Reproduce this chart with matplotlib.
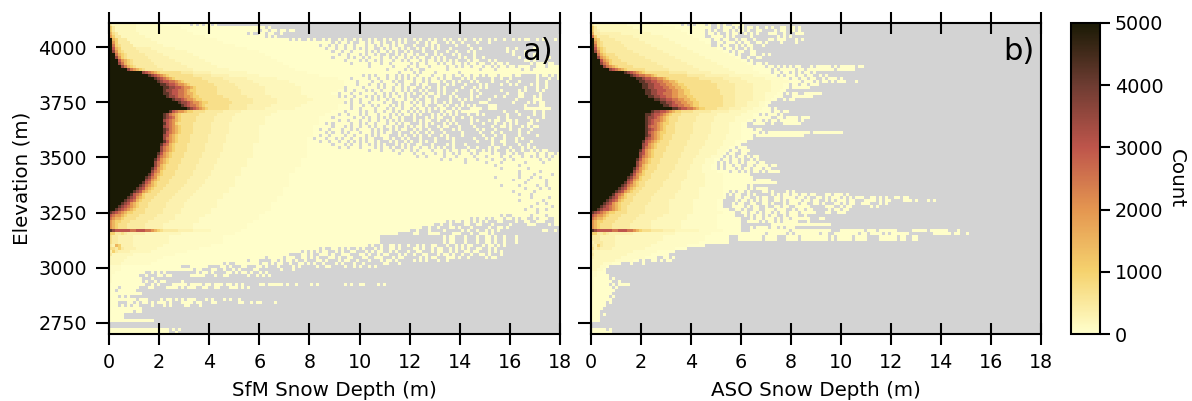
import matplotlib
matplotlib.use('Agg')
import matplotlib.pyplot as plt
import numpy as np
from matplotlib.colors import LinearSegmentedColormap

# count per level, '.' means empty bin
levels = {'0': 30, 'a': 90, '1': 180, 'b': 320, '2': 480, 'c': 720, '3': 1000, '4': 1500,
          '5': 2000, '6': 2500, '7': 3000, '8': 3500, '9': 4200, 'X': 5000}

depth_max = 18
elev_top = 4109
elev_bottom = 2700
n_cols = 150
n_rows = 104

# rows run from top elevation down, columns from 0 m depth up
# "0>20" fills with a level up to column 20, anything else is one level per character
sfm_rows = [
    "2 1>9 a>18 0>27 .0.0.00.0",
    "3 2 1>9 a>24 0>52 .0",
    "3 2 1>9 a>26 0>50 .00.00.0 0.00",
    "4 c 2 1>10 a>28 0>46 .0..00.00..0",
    "5 3 2>4 1>12 a>32 0>52 .0.0",
    "X 4 3 2>6 1>14 a>36 0>60 .0.0.>74 .0..0.0.00..0.0...0.0..0.00.0.0...0..0.0.....0",
    "X 5 3 2>7 1>16 a>38 0>74 .0.00.0..00.0.00.0..0.0.0...0..0.00...0.0..0....0...0",
    "X 6 3 c 2>8 1>18 a>42 0>70 .00.0.00.00.000.00.0.00.0.00...0...0.0.0.....0...0",
    "X 7 4 3 2>9 b>14 1>22 a>46 0>72 .00.00.00.0.0.00..0.0.00.0.0..0.0..0.0...0......0..0 .>132 0..0.....0",
    "X 8 5 3 c 2>10 b>16 1>26 a>50 0>74 .00.00.0000.0.0.00.0.0..0.0...0...0...0..0...0.0 .>130 ..0.0...0...0",
    "X X 6 4 3 c 2>12 b>18 1>28 a>52 0>76 .00.000.0.00.0..0..0.0.00.0..0..0.0...0.0....0 .>134 0...0..0",
    "X X 8 5 3 c 2>13 b>20 1>30 a>54 0>74 .0000.0.00.0.000.00.0.00.0.0.00..0.0.0....0.0..0..0 .>136 0..0.00...0",
    "X X X 7 5 4 3 c 2>14 b>22 1>32 a>56 0>78 .0000.0.00.0.000.00.0.000.0.00.0.0.0.0...0.00...0.0 .>138 00.0...0",
    "X X X 8 6 4 3 c 2>15 b>24 1>34 a>58 0>80 .00000.000.00.000000.0.00.000.0.00.00.0.00.00..0.00.0 .>140 0.000.00",
    "X>4 8 6 4 3 c 2>16 b>26 1>36 a>60 0>86 .0000000.0000.00.000.00000.00.0.00.000.00.0.00.00.0000 .>142 000.0000",
    "X>6 8 6 5 4 3 c 2>18 b>28 1>40 a>62 0>92 .00000.0.00..0000000.0000000000.0000.00000000.00.000 0>150",
    "X>11 8 7 6 5 4 3 c>24 2>28 b>34 1>46 a>66 0>96 .0000.0.0000.0000000.00000000000000000000000000000 0>150",
    "X>13 9 8 7 6 5 4 3 c>28 2>34 b>40 1>50 a>70 0>84 .0.0.000.00.0.0.00.0000.000.00.00.00.00.0.000.0000.00 .>142 0.00.0.0",
    "X>15 9 8 7 6 5 4 3 c>31 2>38 b>46 1>56 a>76 0>80 .00000.00.00.00.0.0.0.00.0.00.0.00...0.0.0.....0..0..0 .>140 ..0...0..0",
    "X>16 9 8 7 7 6 6 5 4 3 c>33 2>40 b>48 1>60 a>78 0>82 .0000.00.000.0..000.00.0.000.0..0.0...0.0....0 .>132 0...0.....0..0",
    "X>17 9 9 8 7 7 6 5 5 4 3 c>35 2>42 b>50 1>62 a>78 0>82 .000.00.0.000.0.00..0.00...0..0.0...0....0.0 .>130 0..0.0....0.0..0",
    "X>18 9 9 8 8 7 7 6 5 5 4 3 c>36 2>43 b>52 1>64 a>78 0>78 .00000.0000.0.00.00.0.00..0.0..0.0.....0...0.0.0 .>134 ....0...0..0",
    "X>18 9 8 8 7 7 6 6 5 4 3 3 c>36 2>44 b>52 1>64 a>76 0>78 .00.000.0.00.000.00.0.0..0.0...0.0...0....0.0 .>130 0.....0.0...0.0",
    "X>18 9 9 8 7 7 6 6 5 4 4 3 c>36 2>44 b>52 1>64 a>74 0>76 .000.00.0000.00.0.0.00.0.0..0.00.0.0..0.....0..0 .>132 0...00.....0",
    "X>19 9 8 8 7 6 6 5 5 4 3 3 c>38 2>46 b>54 1>66 a>76 0>76 .0.00.000.0.0.0.0.00.0.0...0.0..00...0.0....0.0 .>128 0..0....00...0.0",
    "X>21 9 8 8 7 6 5 5 4 3 3 c>40 2>48 b>56 1>68 a>78 0>80 .00.000.0.00.0.000.00.0..00.0....0..0.0.0.....0 .>132 ...0.....000",
    "X>23 9 8 8 7 6 5 5 4 3 3 c>41 2>48 b>56 1>66 a>78 0>78 .0.00.00.0000.00..0.00.0.0.00.0..0.0...0.....000 .>134 0....0.0.00",
    "X>24 9 8 7 6 6 5 4 3 c>40 2>46 b>54 1>64 a>76 0>80 .000.00.0.000.0.0.000.00.0...00.0..0.0.0.0....000 .>136 ..0....00",
    "X>26 9 8 7 6 5 4 3 c>40 2>46 b>52 1>62 a>76 0>80 .00.0000.000.0.00.00.0.00.0.0.00..0.0...0000..000 .>138 000000000",
    "X>20 9 7 6 5 5 4 3 3 c>32 2>38 b>44 1>56 a>74 0>78 .0000.0.00.00.00.0.00.0.0.0.0...0.00.0.000000 .>130 .0...0.....0..0",
    "X>18 9 8 6 5 4 3 c>30 2>36 b>42 1>54 a>72 0>76 .00.000.0.000.000.0.0.00.0.0...0.0.0.0.0...0..0.0 .>132 0...0....0..0",
    "X>18 9 8 7 6 4 3 c>29 2>35 b>41 1>52 a>70 0>74 .000000.00.0.00.0.0.00.0...0...0.0.00...0..0..0 .>128 .0..0......0....0",
    "X>18 8 7 6 5 4 3 c>29 2>35 b>41 1>52 a>70 0>76 .00.000.00.00.00.0.0.0...0.0.00..0..0.0.....0.0 .>126 0.00..00.0....0.0",
    "X>18 9 7 6 5 3 c>28 2>34 b>40 1>52 a>70 0>72 .0.00000.00.0.00.000.00.0.00...0.0.0...0.0.0....0 .>124 0...0..0.0.0...00..",
    "X>18 8 7 6 5 4 3 c>28 2>34 b>40 1>50 a>68 0>74 .000.0.00.00.0.00.00.0..0.0.00.0...0.00...0....0 .>126 .0..00.0...0.0.00",
    "X>18 9 8 6 5 4 3 c>28 2>34 b>40 1>50 a>68 0>70 .00.000.00.0.0000.0.0..0.0.00..0.0..0...0...0.0 .>122 0.0...0....0..0...0",
    "X>18 9 7 6 5 4 3 c>28 2>34 b>40 1>50 a>68 0>72 .0.00.0.000.000.0.0.00..0...0.0..0.0...0.....0 .>122 .0...0..0.....0..0",
    "X>18 8 7 5 4 3 c>27 2>33 b>39 1>50 a>68 0>70 .00.0000.00.000.0.0.000...0.0..0.0..0...0.0....0 .>124 0...0..0....0.....0",
    "X>18 8 6 5 4 3 c>27 2>33 b>39 1>50 a>66 0>68 .000.00.0.00.00.0.00...00.0..0.0...0....0...0.0 .>120 .0...0.0...0...0.0",
    "X>18 9 7 5 4 3 c>27 2>33 b>39 1>50 a>66 0>70 .00.00.00.0.0.0.00.0...0.0..0.0..0.0..0.....0 .>122 0....0..00...0....0",
    "X>17 9 7 6 4 3 c>26 2>32 b>38 1>48 a>66 0>74 .000.0.00.00.0.0.0...0.0.0..00...0....0.0...0 .>124 ...0...0....0..0",
    "X>17 8 6 5 4 3 c>26 2>32 b>38 1>48 a>66 0>76 .00.000.0000.0.00.0..0.0.00.00.0.0.0..0....0..0 .>126 0.00...0...0.0.0",
    "X>17 8 6 5 4 3 c>26 2>32 b>38 1>48 a>66 0>86 .000.000.00.00.0.0000.000.0.00.00.00..0.0.0...0 .>134 0..0..0.0.00",
    "X>16 9 7 5 4 3 c>25 2>31 b>37 1>48 a>66 0>96 .0000.00.000.00.00.0.000.0.0000.00..00.0..000 .>140 0.00.00.0.",
    "X>16 8 6 5 4 3 c>25 2>31 b>37 1>48 a>66 0>102 .00.00000.000.00000.000.0000.00.000.00.0.00 .>146 0.00",
    "X>15 9 7 5 4 3 c>24 2>30 b>36 1>46 a>64 0>110 .00.0000.000.0000.000.00.00000000.00.00 0>150",
    "X>15 8 6 5 4 3 c>24 2>30 b>36 1>46 a>64 0>118 .000000.0000.0000000.00000.0 0>150",
    "X>15 8 6 4 3 c>23 2>29 b>35 1>46 a>64 0>128 .0000000.000000000 0>150",
    "X>14 9 7 5 4 3 c>23 2>29 b>35 1>44 a>62 0>130 .00000000.00000000 0>150",
    "X>14 8 6 5 3 c>22 2>28 b>34 1>44 a>62 0>136 .000000.000000 0>150",
    "X>13 9 7 5 4 3 c>22 2>28 b>34 1>44 a>60 0>136 .0000.00000.00 0>150",
    "X>12 9 8 6 5 3 c>21 2>27 b>33 1>42 a>60 0>128 .0000000.000.00.0000 0>150",
    "X>12 8 7 5 4 3 c>20 2>26 b>32 1>42 a>60 0>134 .0000.00000.00 0>150",
    "X>11 9 7 6 4 3 c>20 2>26 b>32 1>42 a>60 0>138 .000000.000 0>150",
    "X>10 9 8 6 5 4 3 c>19 2>25 b>31 1>42 a>60 0>130 .00000.00000.00.00 0>150",
    "X>9 9 8 7 5 4 3 c>18 2>24 b>30 1>40 a>58 0>138 .0000.00.00 0>150",
    "X>8 9 8 7 5 4 3 c>17 2>23 b>29 1>40 a>58 0>134 .000000.00000 0>150",
    "X>7 9 7 6 5 3 c>16 2>22 b>28 1>38 a>58 0>136 .000.0000000 0>150",
    "X>6 9 8 7 5 4 3 c>15 2>21 b>27 1>38 a>56 0>140 .00000.000",
    "X>5 9 8 7 6 4 3 c>14 2>20 b>26 1>36 a>56 0>136 .0000000.00 0>150",
    "X>4 9 8 7 5 4 3 c>13 2>19 b>25 1>36 a>54 0>142 .00.00000",
    "X>3 9 8 7 6 5 4 3 c>13 2>19 b>25 1>36 a>54 0>140 .000000.0 0>150",
    "X X 9 8 7 6 5 4 3 c>12 2>18 b>24 1>34 a>54 0>138 .000.00.000 0>150",
    "9 8 7 6 5 4 3 3 c>12 2>18 b>24 1>34 a>52 0>142 .000000 0>150",
    "7 6 5 5 4 3 c>10 2>16 b>22 1>32 a>50 0>130 .0..000000.0000.00 0>150",
    "6 5 4 4 3 c>9 2>15 b>22 1>30 a>50 0>120 .0.00.0.000.00.0.00..0.000..0000...0.0000",
    "5 4 3 3 c>7 2>13 b>20 1>30 a>48 0>112 .0.00.00.0.0.0...00....0..00..000...000...00....000",
    "5 4 3 c>6 2>12 b>18 1>28 a>46 0>108 ..0..0....00..00...0.....0.....000....0.00.0.0",
    "5 4 3 c>6 2>12 b>18 1>28 a>46 0>104 ..0..0...00.0...0.....0..00.0",
    "9 8 7 7 7 7 7 6 6 7 7 7 6 6 5 4 3 c 2>23 b>28 1>34 a>44 0>100 ..0...0....0.....0.0..0..0.0.0 .>142 ..00..0",
    "3 3 2 2 c 2 b>12 1>24 a>42 0>96 .....00...0000....000...0..000.0",
    "c 2 2 b>8 1>20 a>38 0>90 .>110 .0.00...0...0..00.0..0...0",
    "2 b 4 3 b>8 1>18 a>34 0>86 .0..0..00.0..0..0.0..00...0..0.0.00...0.00.0.0",
    "c c 2 3 2 b>9 1>16 a>30 0>70 .0..00.0.0..0.0...0.0..00.0....00.0..0.00..0.0.0.0..00..0.0",
    "b 3 2 b>7 1>14 a>26 0>64 .0.0.0.00..0.0..00...0.0.00..0.0...0..00...0.00..0.0..00.00...0.0.0",
    "2 1>8 a>22 0>60 ....00.0..000.0..000...00.0..0.00...0.0..0..00...0.00.0..0..0..00.0...0",
    "1>6 a>18 0>52 .00000.000..00.0.0...00.0..00...00..000...0.00.....0.0.00...000.0..0.....0.00",
    "1>5 a>16 0>46 .000....00.0.00.0..0...00.0...0.00..0...0...0.00.0.....0.0.0...0..0",
    "1>4 a>14 0>38 .0..00000000.00.0.00..0..00.0.0..0...0.0...0..0......00...0",
    "a>4 0>24 ...000000....00.0...00...00.0...0....0.0.....0..00....0..0.0..0.0",
    "a>4 0>28 .00...00..0..0.0....00.......0...0",
    "a>2 0>12 ..0.0.0..........0.00.0....00.0.00.0..0.0",
    "a 0>10 ..0...00.00......00000...0..00......0..0.0.0",
    "a 0>11 ...0........",
    "a 0>11 .0..0.00.....0",
    "0>12 ..0.0....00000.0000.00.000.00.0.0.....00.00000.0..0....0.0........0.0..00....0.0",
    "0>3 .000000...00....0000.0.000..00..00...000.0.0....",
    "0>2 .000000",
    "0>11",
    "0>3 .0.0",
    "0>9 .000....0.00.0.0.000...0.0...0.0..0",
    "0>3 ...00.0.00.0.000.0...0000.00...00.......00..0.00....0",
    "0>3 .0.0.00....0...0.0....00...0",
    "0>11",
    "0>8 .00",
    "0>5",
    "0>5",
    "0>15",
    "",
    "",
    "0>20 .0.0",
    "0>20 ..0",
]

aso_rows = [
    "2 1>12 a>24 0>30 .0.0.000.0..0.0..0000",
    "3 2 1>14 a>28 0>40 ..0.000.0.0.00.0..0.0..00..0.0",
    "3 2 b 1>16 a>30 0>38 .0.0..00.0.00.0..00....0.00..0.0",
    "4 2 2 b>10 1>20 a>32 0>38 .00.0..0.00..0.0.0...000..0...000",
    "6 3 2>6 b>14 1>24 a>34 0>38 ..0000.0.0.....0........0.0.0",
    "X 4 3 2>8 b>16 1>26 a>36 0>40 .00.00..0.00..0....00.000...0.0",
    "X 5 3 c 2>10 b>18 1>28 a>38 0>40 ..00.000.0.00..00.0....0....0",
    "X 6 3 c 2>11 b>20 1>30 a>40 0>40 ..0.00..0.0.00...0",
    "X 7 4 3 c 2>12 b>22 1>32 a>42 0>44 .00.0..0.0",
    "X 8 5 3 c 2>14 b>24 1>34 a>44 0>46 .0.00..00",
    "X X 6 4 3 c>8 2>16 b>26 1>36 a>46 0>48 .0...00..0.0",
    "X X 8 5 4 3 c>9 2>18 b>28 1>38 a>48 0>50 ..0..00",
    "X X X 7 5 4 3 c>10 2>20 b>30 1>40 a>50 0>52 .0",
    "X X X 8 6 5 3 c>12 2>22 b>32 1>42 a>52 0>54 .00.0",
    "X>4 8 6 5 4 3 c>14 2>24 b>34 1>44 a>54 0>58 .00.0.0.0.00...0.00000.0.00000.00",
    "X>6 8 7 6 5 4 3 c>18 2>26 b>36 1>46 a>54 0>60 .0.00000.00.000000000.000000",
    "X>11 9 8 7 6 5 4 3 c>26 2>32 b>40 1>48 a>56 0>60 .00.00.0.0.00.0",
    "X>13 9 8 7 6 6 5 5 4 3 c>32 2>38 b>46 1>54 a>60 0>62 .0.000.00.00..0.0",
    "X>15 9 9 8 7 7 6 6 5 5 4 3 c>36 2>44 b>50 1>58 a>64 0>66 .00.00.00..0.000.0",
    "X>16 9 9 8 8 7 7 6 6 5 5 4 4 3 c>40 2>46 b>52 1>60 a>66 0>70 .000.0.00.0.000...0",
    "X>17 9 9 8 8 7 7 6 6 5 5 4 4 3 3 c>42 2>48 b>54 1>60 a>64 0>66 .00.00.000",
    "X>17 9 9 8 8 7 7 7 6 6 5 5 4 4 3 3 c>42 2>48 b>54 1>60 a>64 0>66 .000000",
    "X>18 9 9 8 8 7 7 7 6 6 5 5 4 4 3 3 c>43 2>48 b>54 1>60 a>63 0>65 ",
    "X>18 9 9 8 8 7 7 6 6 6 5 5 4 4 3 3 c>43 2>48 b>54 1>58 a>62 0>64 .0.00..000000",
    "X>19 9 9 8 8 7 7 6 6 5 5 4 4 4 3 3 c>44 2>48 b>54 1>58 a>61 0>64 ...0000000",
    "X>21 9 9 8 8 7 7 6 6 5 5 4 4 3 3 c>44 2>48 b>54 1>58 a>60 0>62 ..0.00",
    "X>23 9 9 8 8 7 6 6 5 5 4 4 3 3 c>44 2>48 b>52 1>56 a>58 0>60",
    "X>24 9 9 8 7 7 6 6 5 5 4 3 3 c>44 2>48 b>52 1>56 a>58 0>59",
    "X>27 9 9 8 7 7 6 6 5 4 3 3 c>42 2>46 b>50 1>54 a>57 0>60 .0",
    "X>20 9 8 8 7 7 6 5 4 3 3 c>34 2>40 b>46 1>52 a>56 0>60 .00.00",
    "X>18 9 9 8 7 7 6 5 4 3 c>30 2>36 b>42 1>50 a>54 0>56 .0.000.0",
    "X>18 9 8 8 7 6 5 4 3 c>29 2>35 b>41 1>48 a>54 0>60 ..00.0000.000",
    "X>18 9 8 7 6 6 5 4 3 c>29 2>35 b>41 1>48 a>52 0>54 .00.0.00.000000.0",
    "X>18 9 8 7 6 5 4 3 3 c>28 2>34 b>40 1>46 a>50 0>52 ..0000..0...000000",
    "X>18 9 7 6 6 5 4 3 c>28 2>34 b>40 1>46 a>50 0>52",
    "X>18 9 8 7 6 5 4 3 c>28 2>34 b>40 1>46 a>50 0>54 .00",
    "X>18 9 7 6 5 4 3 3 c>28 2>34 b>40 1>46 a>50 0>56 .0.00000000000000.0000000000",
    "X>18 9 8 6 5 4 3 c>27 2>33 b>39 1>45 a>50 0>54 .0000000000000000",
    "X>18 8 7 6 5 4 3 c>27 2>33 b>39 1>45 a>50 0>54",
    "X>17 9 7 6 5 4 3 c>26 2>32 b>38 1>44 a>48 0>52",
    "X>17 8 7 5 4 3 c>26 2>32 b>38 1>44 a>48 0>50",
    "X>17 8 6 5 4 3 c>25 2>31 b>37 1>43 a>46 0>48 .000",
    "X>16 9 7 5 4 3 c>25 2>31 b>36 1>42 a>45 0>46 .00.000",
    "X>16 8 7 5 4 3 c>24 2>30 b>36 1>42 a>44 0>45 .00..00",
    "X>16 8 6 5 4 3 c>24 2>30 b>35 1>40 a>43 0>44 .0.0.00.0.00",
    "X>15 9 7 5 4 3 c>23 2>29 b>34 1>38 a>41 0>43 .00.00.0..0.0",
    "X>15 8 6 5 4 3 c>23 2>29 b>34 1>38 a>41 0>42 .0.0.00.0.000.00",
    "X>15 8 6 4 3 c>22 2>28 b>33 1>37 a>40 0>42 .0.00.00..00.0000.00",
    "X>14 9 7 5 4 3 c>22 2>28 b>33 1>37 a>40 0>42 .0.000.0.00.000.00",
    "X>14 8 6 5 3 c>21 2>27 b>32 1>37 a>42 0>46 .00.0.0.00.0.0000",
    "X>13 9 7 5 4 3 c>20 2>26 b>32 1>38 a>44 0>53",
    "X>12 9 8 6 5 3 c>20 2>26 b>32 1>38 a>44 0>54",
    "X>12 8 7 5 4 3 c>19 2>25 b>31 1>38 a>44 0>54 .00000",
    "X>11 9 7 6 4 3 c>18 2>24 b>30 1>38 a>44 0>62",
    "X>10 9 8 6 5 4 3 c>18 2>24 b>30 1>38 a>44 0>52 .0",
    "X>9 9 8 7 5 4 3 c>17 2>23 b>30 1>36 a>44 0>52 .0.0000",
    "X>8 9 8 7 5 4 3 c>16 2>22 b>29 1>36 a>44 0>46 .0.00.0....00.0....0.0",
    "X>7 9 7 6 5 3 c>15 2>21 b>28 1>36 a>44 0>45 .0.00..0.0.....0.0.00.00.00.00...00.000.0",
    "X>6 9 8 7 5 4 3 c>14 2>20 b>28 1>36 a>44 0>45 ...00.00..0.00..00.0000.00.0..00.0.000.0.0.000..00.0.0..00.00",
    "X>5 9 8 7 6 4 3 c>14 2>20 b>26 1>34 a>42 0>44 ....0.00.0.0.00..00.0.0000.00.00..0.0.000.00...0000.0.00....000.0...0.0",
    "X>4 9 8 7 5 4 3 c>13 2>19 b>26 1>34 a>42 0>44 ...0.00..00..00.0...0.000.00..00.0...00.0.00..000...0.0",
    "X>3 9 8 7 6 5 4 3 c>12 2>18 b>26 1>34 a>42 0>44 ...0000.0.00..0..00.00..00000.....000..0.00......0.0",
    "X X 9 8 7 7 6 5 4 3 c>12 2>18 b>26 1>34 a>42 0>46 ..00.0..00..000.000..0.00.00.....0.00.00",
    "9 8 7 6 5 4 3 3 c>12 2>18 b>26 1>34 a>44 0>48 ..00.00.0.00.0.00.000.00000...00..000",
    "7 6 5 5 4 3 c>10 2>16 b>24 1>32 a>42 0>48 ...0.0.00.0.00..0.000..0",
    "6 5 4 4 3 c>9 2>15 b>22 1>32 a>42 0>50 ...0.00.000.0.00.000000...00",
    "5 4 3 3 c>8 2>14 b>20 1>30 a>42 0>50 ..0000.0.00.0.00000...0",
    "5 4 3 c>7 2>13 b>20 1>30 a>42 0>50 ..........00000000000000000000",
    "5 4 3 c>7 2>13 b>20 1>30 a>42 0>50 ...0.0000.00.0.000",
    "9 8 7 7 7 7 7 6 6 7 7 7 6 6 5 4 3 c>20 2>24 b>28 1>36 a>44 0>50 ...0000000000000.0000000000000...00000000.000.000000.....00000.000000...0",
    "3 3 2 2 c 2 b>14 1>28 a>40 0>58 .000000.0.00000000.00..00000000.00.0000.0.000000........000000.00..0",
    "2 2 2 b>8 1>24 a>38 0>46 ...00000000.0000...0000.000000000.0.00000.0000....000000.00..00",
    "b 2 2 2 b>8 1>22 a>36 0>46",
    "2 b 3 2 b>8 1>20 a>32 0>38",
    "c b 2 b>7 1>18 a>28 0>32",
    "b 1>14 a>22 0>28",
    "2 1>12 a>20 0>26",
    "b 1>10 a>18 0>22 ..00.0",
    "1>8 a>14 0>16 .0..00.0.00",
    "1>4 a>7 0>10 ...0...0",
    "1>3 a>5 0>6",
    "1>2 a>4 0>5",
    "a>2 0>5",
    "a>2 0>6",
    "a 0>6 .0",
    "a 0>7 ..0",
    "a 0>6 .0.0000",
    "a 0>7 .0",
    "a 0>8",
    "0>7",
    "0>6 .0",
    "0>7",
    "0>5 .0",
    "0>5",
    "0>4",
    "0>3",
    "0>3 .0",
    "0>3",
    "0>3",
    "",
    "",
    "0>5 .0",
    "0>7",
]

depth_ticks = np.arange(0, 19, 2)
elev_ticks = [2750, 3000, 3250, 3500, 3750, 4000]
cbar_ticks = [0, 1000, 2000, 3000, 4000, 5000]
panel_labels = ['a)', 'b)']
x_labels = ['SfM Snow Depth (m)', 'ASO Snow Depth (m)']

cmap_colors = ['#FFFFCC', '#F5D26E', '#E49650', '#BE554B', '#6E3C32', '#1A1A05']


def expand_row(row):
    out = ''
    for token in row.split():
        if '>' in token:
            ch, end = token.split('>')
            out += ch * max(int(end) - len(out), 0)
        else:
            out += token
    return out


def rows_to_grid(rows):
    # the low rows of every panel are aligned to the bottom axis edge
    offset = n_rows - len(rows)
    if offset > 0:
        rows = rows[:71] + [rows[71]] * offset + rows[71:]
        offset = 0
    grid = np.full((n_rows, n_cols), np.nan)
    for i, row in enumerate(rows):
        r = i if i <= 70 else i + offset
        if r >= n_rows or r < 0:
            continue
        for j, ch in enumerate(expand_row(row)[:n_cols]):
            if ch in levels:
                grid[r, j] = levels[ch]
    return np.ma.masked_invalid(grid)


cmap = LinearSegmentedColormap.from_list('snow_counts', cmap_colors)

plt.rcParams['font.size'] = 13.8
fig = plt.figure(figsize=(11.92, 4.01), dpi=100)
W, H = 1192.0, 401.0
ax1 = fig.add_axes([109/W, 1-334/H, 451/W, 311/H])
ax2 = fig.add_axes([591/W, 1-334/H, 450/W, 311/H])
cax = fig.add_axes([1071/W, 1-334/H, 29/W, 311/H])

for i, (ax, rows) in enumerate(zip([ax1, ax2], [sfm_rows, aso_rows])):
    grid = rows_to_grid(rows)
    xe = np.linspace(0, depth_max, n_cols + 1)
    ye = np.linspace(elev_top, elev_bottom, n_rows + 1)
    mesh = ax.pcolormesh(xe, ye, grid, cmap=cmap, vmin=0, vmax=5000, antialiased=False)
    ax.set_facecolor('lightgray')
    ax.set_xlim(0, depth_max)
    ax.set_ylim(elev_bottom, elev_top)
    ax.set_xticks(depth_ticks)
    ax.set_yticks(elev_ticks)
    ax.set_xlabel(x_labels[i], labelpad=6, fontsize=14.3)
    ax.tick_params(axis='x', direction='inout', length=16, width=1.5, top=True, pad=6)
    ax.tick_params(axis='y', direction='out', length=9.4, width=1.5, pad=6.5)
    for s in ax.spines.values():
        s.set_linewidth(1.5)
    ax.text(0.985, 0.955, panel_labels[i], transform=ax.transAxes, ha='right', va='top', fontsize=22)

ax1.set_ylabel('Elevation (m)', labelpad=5, fontsize=14.3)
ax2.tick_params(axis='y', labelleft=False)

cb = fig.colorbar(mesh, cax=cax)
cb.set_ticks(cbar_ticks)
cb.ax.tick_params(length=7, width=1.5)
cb.outline.set_linewidth(1.5)
cb.set_label('Count', rotation=270, labelpad=3, va='bottom', fontsize=14.3)

fig.savefig('out.png', dpi=100)
